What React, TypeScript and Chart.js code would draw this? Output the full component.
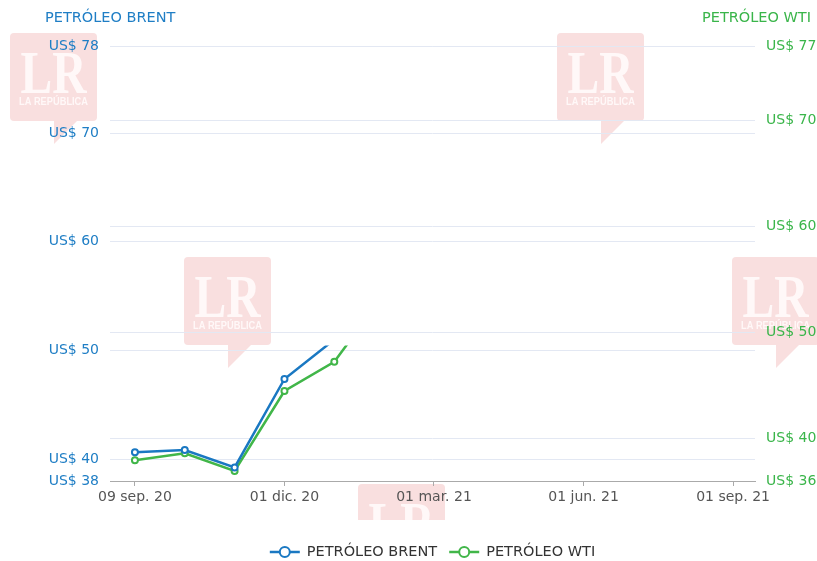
import React, { useEffect, useRef } from 'react';
import { Chart, registerables } from 'chart.js';

Chart.register(...registerables);

// ---- data ----
const xTickPositions = [0, 3, 6, 9, 12];
const xTickLabels = ['09 sep. 20', '01 dic. 20', '01 mar. 21', '01 jun. 21', '01 sep. 21'];
const brentValues = [40.64, 40.85, 39.25, 47.38, 51.0];
const wtiValues = [37.95, 38.61, 36.94, 44.48, 47.24, 53.6];
const brentTicks = [38, 40, 50, 60, 70, 78];
const wtiTicks = [36, 40, 50, 60, 70, 77];
const seriesNames = ['PETRÓLEO BRENT', 'PETRÓLEO WTI'];
const visibleCeilingBrent = 50.45; // lines are cut off above this Brent level in the source

// ---- styles ----
const BLUE = '#1a78c2';
const BLUE_TEXT = '#1f7ec5';
const GREEN = '#41b649';
const GREEN_TEXT = '#3ab54a';
const GRID = '#e3e8f3';
const FONT = '"DejaVu Sans", sans-serif';
const LOGO_SPOTS = [
  [10, 33],
  [557, 33],
  [184, 257],
  [732, 257],
  [358, 484],
];

function drawLogo(ctx: CanvasRenderingContext2D, x: number, y: number) {
  const w = 87, h = 88;
  ctx.save();
  ctx.fillStyle = '#f9dfdf';
  ctx.beginPath();
  (ctx as any).roundRect(x, y, w, h, 4);
  ctx.fill();
  ctx.beginPath();
  ctx.moveTo(x + 44, y + h - 1);
  ctx.lineTo(x + 44, y + h + 23);
  ctx.lineTo(x + 68, y + h - 1);
  ctx.closePath();
  ctx.fill();
  ctx.fillStyle = '#fff8f8';
  ctx.textAlign = 'center';
  ctx.textBaseline = 'alphabetic';
  ctx.font = 'bold 62px "Liberation Serif", serif';
  const lrW = ctx.measureText('LR').width;
  ctx.save();
  ctx.translate(x + w / 2, y + 60);
  ctx.scale(66 / lrW, 1);
  ctx.fillText('LR', 0, 0);
  ctx.restore();
  ctx.font = 'bold 10px "Liberation Sans", sans-serif';
  const subW = ctx.measureText('LA REPÚBLICA').width;
  ctx.save();
  ctx.translate(x + w / 2, y + 72);
  ctx.scale(69 / subW, 1);
  ctx.fillText('LA REPÚBLICA', 0, 0);
  ctx.restore();
  ctx.restore();
}

const watermarkPlugin = {
  id: 'watermark',
  beforeDraw(chart: any) {
    const { ctx } = chart;
    ctx.save();
    ctx.beginPath();
    ctx.rect(0, 0, chart.width, 520);
    ctx.clip();
    LOGO_SPOTS.forEach(([x, y]) => drawLogo(ctx, x, y));
    ctx.restore();
  },
};

const ceilingClipPlugin = {
  id: 'ceilingClip',
  beforeDatasetsDraw(chart: any) {
    const { ctx, chartArea } = chart;
    const yTop = chart.scales.y.getPixelForValue(visibleCeilingBrent);
    ctx.save();
    ctx.beginPath();
    ctx.rect(chartArea.left - 10, yTop, chartArea.right - chartArea.left + 20, chartArea.bottom + 10 - yTop);
    ctx.clip();
  },
  afterDatasetsDraw(chart: any) {
    chart.ctx.restore();
  },
};

const titlesAndLegendPlugin = {
  id: 'titlesAndLegend',
  afterDraw(chart: any) {
    const { ctx, chartArea } = chart;
    ctx.save();
    // axis titles
    ctx.font = `14.5px ${FONT}`;
    ctx.textBaseline = 'middle';
    ctx.fillStyle = BLUE_TEXT;
    ctx.textAlign = 'left';
    ctx.fillText(seriesNames[0], 45, 18);
    ctx.fillStyle = GREEN_TEXT;
    ctx.textAlign = 'right';
    ctx.fillText(seriesNames[1], 811, 18);

    // legend
    ctx.font = `14.5px ${FONT}`;
    const colors = [BLUE, GREEN];
    const symW = 30, gap = 7, itemGap = 12;
    const widths = seriesNames.map((n) => symW + gap + ctx.measureText(n).width);
    const total = widths.reduce((a, b) => a + b, 0) + itemGap * (widths.length - 1);
    let x = (chartArea.left + chartArea.right) / 2 - total / 2;
    const y = 552;
    seriesNames.forEach((name, i) => {
      ctx.strokeStyle = colors[i];
      ctx.lineWidth = 2.5;
      ctx.beginPath();
      ctx.moveTo(x, y);
      ctx.lineTo(x + symW, y);
      ctx.stroke();
      ctx.beginPath();
      ctx.arc(x + symW / 2, y, 5, 0, Math.PI * 2);
      ctx.fillStyle = '#fff';
      ctx.fill();
      ctx.lineWidth = 2;
      ctx.stroke();
      ctx.fillStyle = '#333';
      ctx.textAlign = 'left';
      ctx.fillText(name, x + symW + gap, y);
      x += widths[i] + itemGap;
    });
    ctx.restore();
  },
};

export default function App() {
  const canvasRef = useRef<HTMLCanvasElement | null>(null);

  useEffect(() => {
    const canvas = canvasRef.current;
    if (!canvas) return;
    const chart = new Chart(canvas, {
      type: 'line',
      data: {
        datasets: [
          {
            label: seriesNames[0],
            data: brentValues.map((v, i) => ({ x: i, y: v })),
            yAxisID: 'y',
            borderColor: BLUE,
            backgroundColor: BLUE,
            borderWidth: 2.5,
            pointRadius: 3,
            pointBorderWidth: 2,
            pointBackgroundColor: '#fff',
            pointBorderColor: BLUE,
            tension: 0,
          },
          {
            label: seriesNames[1],
            data: wtiValues.map((v, i) => ({ x: i, y: v })),
            yAxisID: 'y1',
            borderColor: GREEN,
            backgroundColor: GREEN,
            borderWidth: 2.5,
            pointRadius: 3,
            pointBorderWidth: 2,
            pointBackgroundColor: '#fff',
            pointBorderColor: GREEN,
            tension: 0,
          },
        ],
      },
      options: {
        animation: false,
        responsive: false,
        layout: { padding: { top: 46, bottom: 40, left: 0, right: 0 } },
        plugins: {
          legend: { display: false },
          tooltip: { enabled: false },
        },
        scales: {
          x: {
            type: 'linear',
            min: -0.5,
            max: 12.44,
            afterBuildTicks: (scale: any) => {
              scale.ticks = xTickPositions.map((v) => ({ value: v }));
            },
            afterFit: (scale: any) => {
              scale.height = 40;
            },
            ticks: {
              autoSkip: false,
              maxRotation: 0,
              padding: 3,
              color: '#555',
              font: { family: FONT, size: 14 },
              callback: (v: any) => {
                const idx = xTickPositions.indexOf(Number(v));
                return idx >= 0 ? xTickLabels[idx] : '';
              },
            },
            grid: { drawOnChartArea: false, drawTicks: true, tickLength: 5, color: '#aaa' },
            border: { display: true, color: '#aaa' },
          },
          y: {
            type: 'linear',
            position: 'left',
            min: 38,
            max: 78,
            afterBuildTicks: (scale: any) => {
              scale.ticks = brentTicks.map((v) => ({ value: v }));
            },
            afterFit: (scale: any) => {
              scale.width = 110;
            },
            ticks: {
              autoSkip: false,
              padding: 11,
              color: BLUE_TEXT,
              font: { family: FONT, size: 14 },
              callback: (v: any) => 'US$ ' + v,
            },
            grid: { color: GRID, drawTicks: false, lineWidth: 1 },
            border: { display: false },
          },
          y1: {
            type: 'linear',
            position: 'right',
            min: 36,
            max: 77,
            afterBuildTicks: (scale: any) => {
              scale.ticks = wtiTicks.map((v) => ({ value: v }));
            },
            afterFit: (scale: any) => {
              scale.width = 62;
            },
            ticks: {
              autoSkip: false,
              padding: 11,
              color: GREEN_TEXT,
              font: { family: FONT, size: 14 },
              callback: (v: any) => 'US$ ' + v,
            },
            grid: { color: GRID, drawTicks: false, lineWidth: 1 },
            border: { display: false },
          },
        },
      },
      plugins: [watermarkPlugin, ceilingClipPlugin, titlesAndLegendPlugin],
    } as any);
    return () => chart.destroy();
  }, []);

  return (
    <div style={{ position: 'fixed', left: 0, top: 0, width: 817, height: 561, background: '#fff' }}>
      <canvas ref={canvasRef} width={817} height={561} style={{ display: 'block' }} />
    </div>
  );
}
